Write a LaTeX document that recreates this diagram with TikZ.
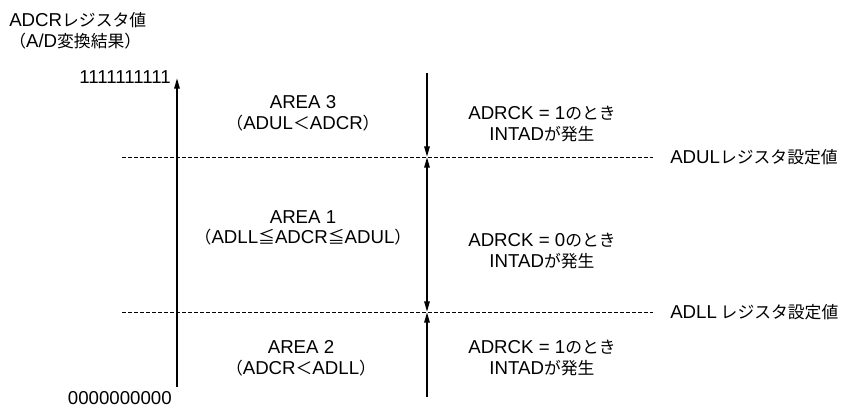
\documentclass[tikz,border=0pt]{standalone}
\usepackage{fontspec}
\setmainfont{Liberation Sans}
\newfontfamily\jpfont[Scale=0.9]{Noto Sans CJK JP}
\newcommand{\jtext}[1]{{\jpfont #1}}
\usetikzlibrary{arrows.meta}

\begin{document}
\begin{tikzpicture}[x=0.75pt,y=-0.75pt,
  every node/.style={font=\fontsize{14}{15.5}\selectfont,inner sep=0pt},
  axisline/.style={line width=1.4pt},
  uptip/.style={-{Triangle[length=8pt,width=4pt]}},
  bothtips/.style={{Triangle[length=8pt,width=4pt]}-{Triangle[length=8pt,width=4pt]}},
  downtip/.style={{Triangle[length=8pt,width=4pt]}-},
  limitline/.style={line width=0.6pt,dash pattern=on 3pt off 1.5pt},
  areatext/.style={align=center}]
\useasboundingbox (0,0) rectangle (847,408);

\node[anchor=west] (title) at (9,20) {ADCR\jtext{レジスタ値}};
\node[anchor=west] (subtitle) at (9,41) {\jtext{（}A/D\jtext{変換結果）}};

\coordinate (axB) at (177,387);
\coordinate (axT) at (177,78);
\draw[axisline,uptip] (axB) -- (axT);
\node[anchor=east] (maxval) at (171,77) {1111111111};
\node[anchor=east] (minval) at (172,398) {0000000000};

\coordinate (ulS) at (122,157);
\coordinate (ulE) at (653,157);
\node[anchor=west] (ulset) at (670,157) {ADUL\jtext{レジスタ設定値}};
\draw[limitline] (ulS) -- (ulE);

\coordinate (llS) at (122,312);
\coordinate (llE) at (653,312);
\node[anchor=west] (llset) at (670,312) {ADLL\jtext{ レジスタ設定値}};
\draw[limitline] (llS) -- (llE);

\coordinate (rTop) at (427,73);
\coordinate (rUL) at (427,157);
\coordinate (rLL) at (427,312);
\coordinate (rBot) at (427,397);
\draw[axisline,uptip] (rTop) -- (rUL);
\draw[axisline,bothtips] (rUL) -- (rLL);
\draw[axisline,downtip] (rLL) -- (rBot);

\node[areatext] (area3) at (303,113) {AREA 3\\\jtext{（}ADUL\jtext{＜}ADCR\jtext{）}};
\node[areatext] (area1) at (303,228) {AREA 1\\\jtext{（}ADLL\jtext{≦}ADCR\jtext{≦}ADUL\jtext{）}};
\node[areatext] (area2) at (301,358) {AREA 2\\\jtext{（}ADCR\jtext{＜}ADLL\jtext{）}};

\node[areatext] (int3) at (542,124) {ADRCK = 1\jtext{のとき}\\INTAD\jtext{が発生}};
\node[areatext] (int1) at (542,251) {ADRCK = 0\jtext{のとき}\\INTAD\jtext{が発生}};
\node[areatext] (int2) at (542,358) {ADRCK = 1\jtext{のとき}\\INTAD\jtext{が発生}};
\end{tikzpicture}
\end{document}
